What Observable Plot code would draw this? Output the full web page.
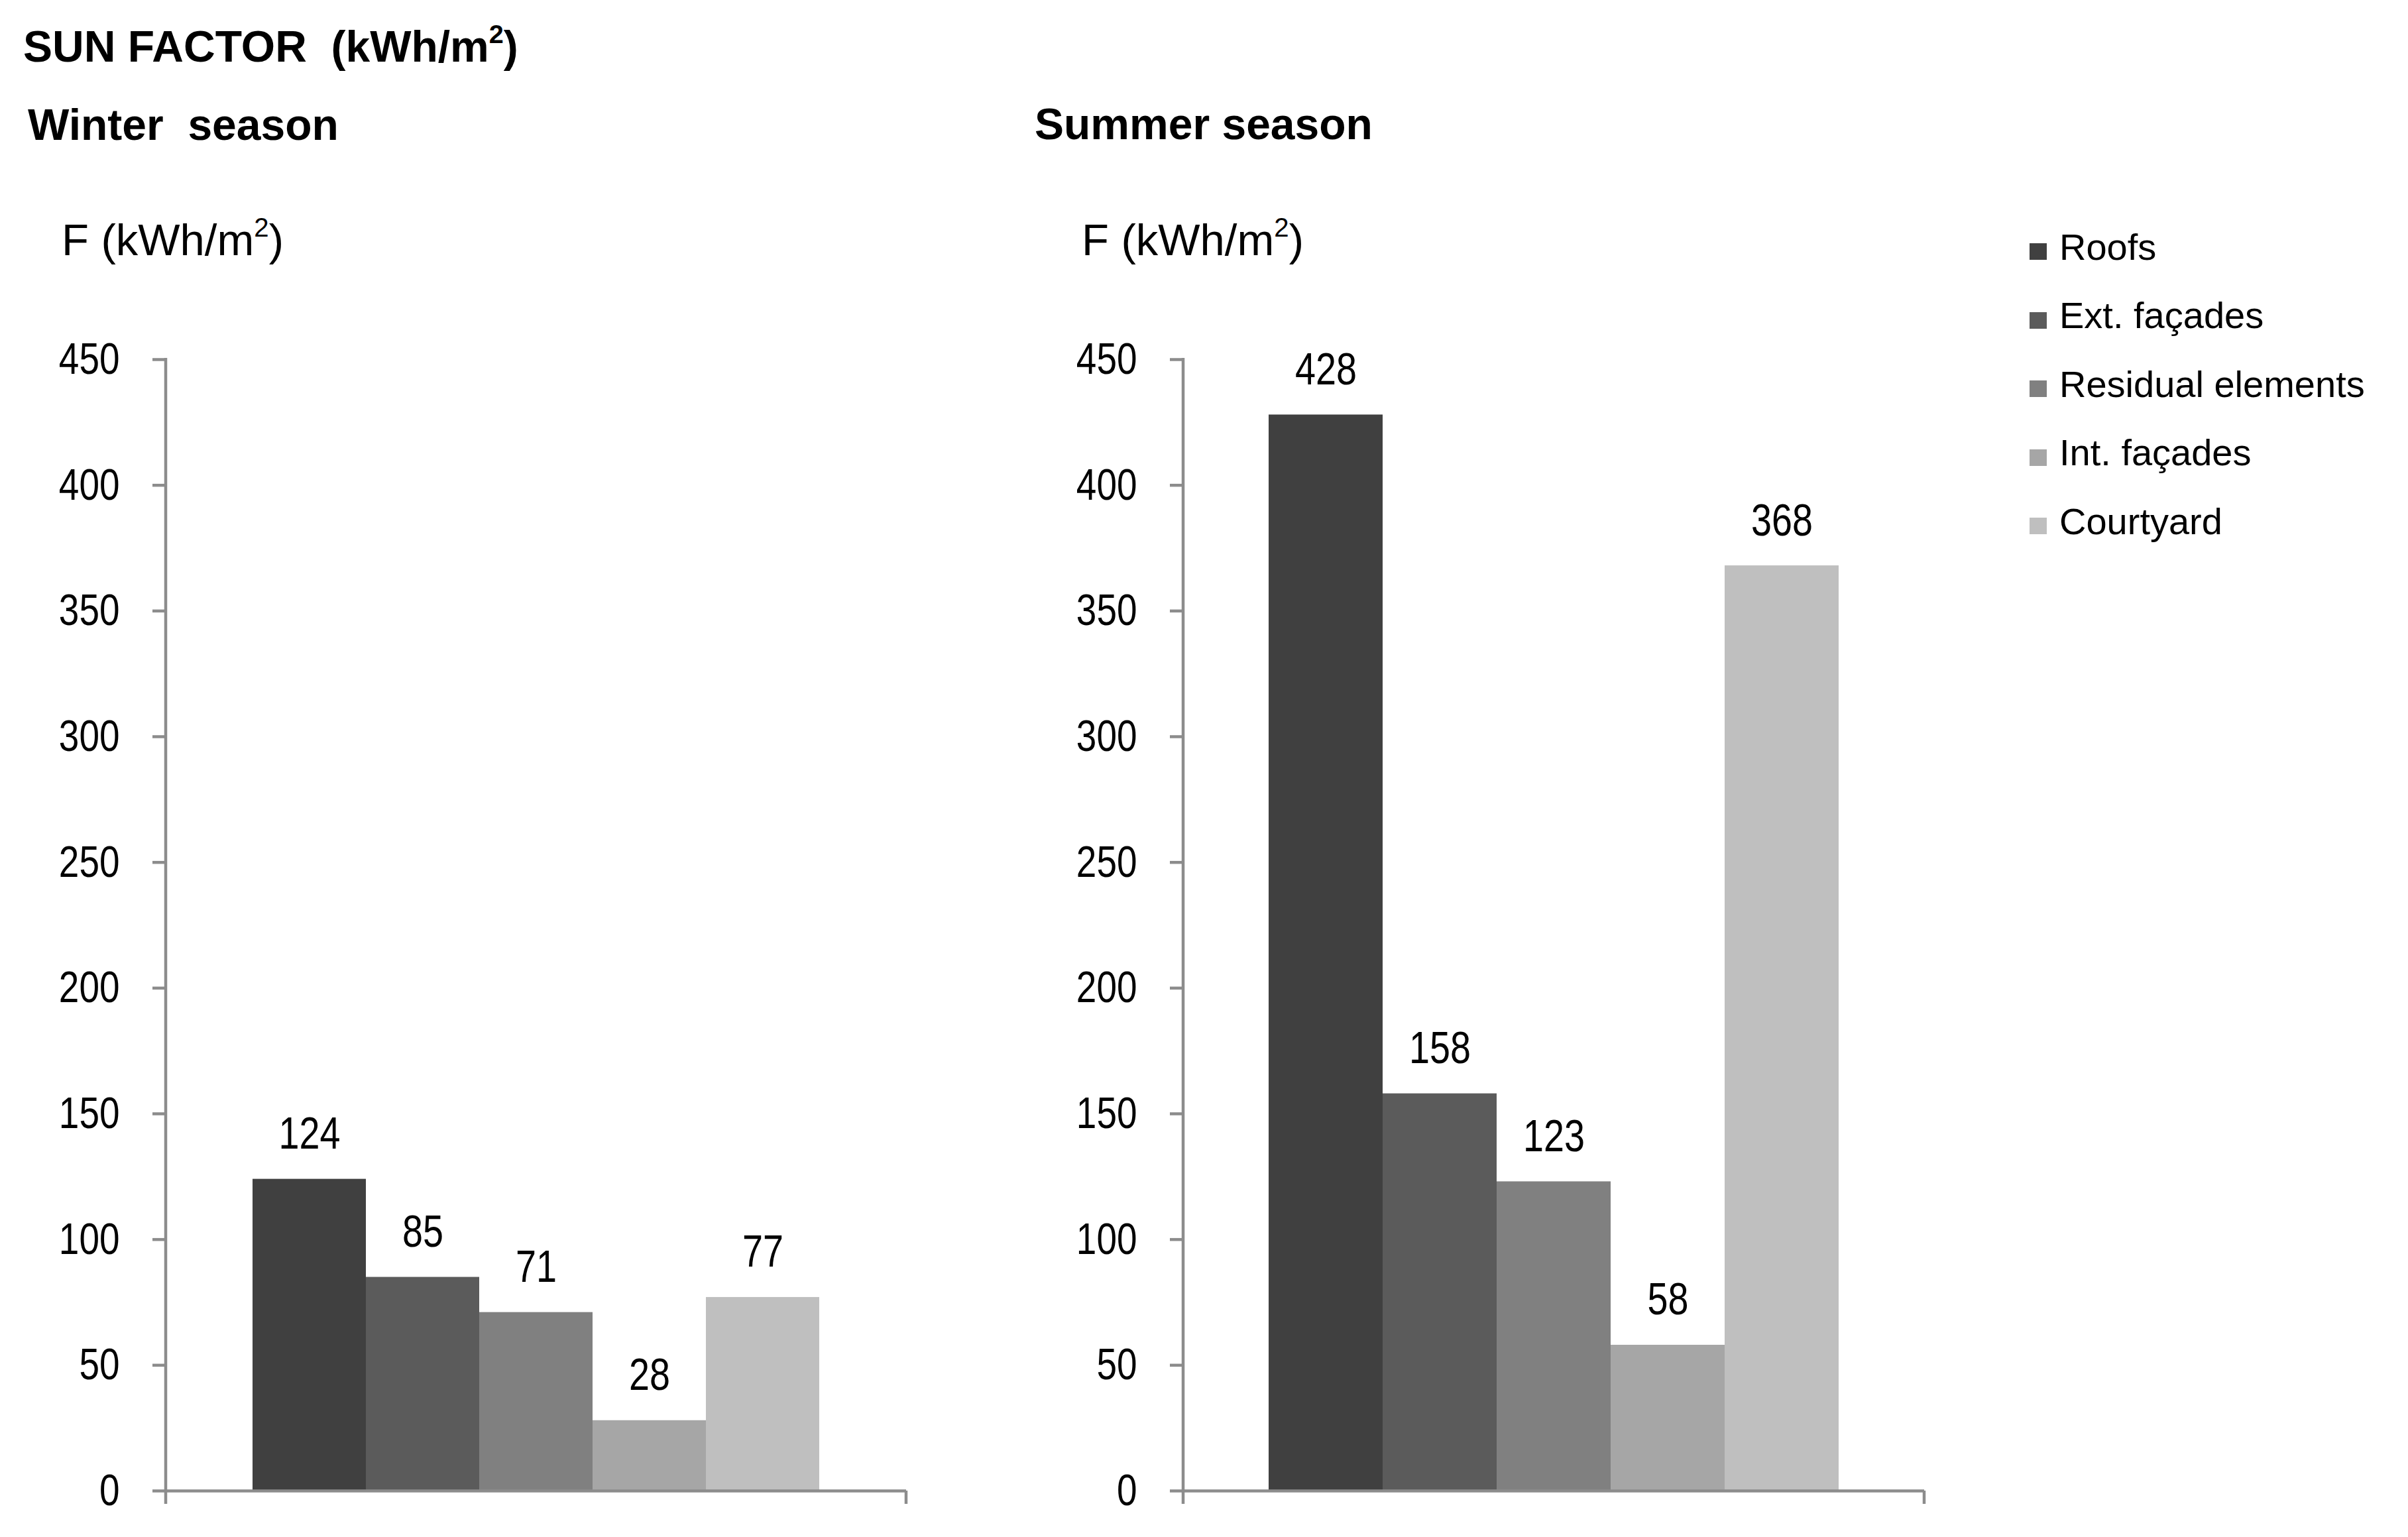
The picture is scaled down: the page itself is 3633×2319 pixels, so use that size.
<!DOCTYPE html>
<html>
<head>
<meta charset="utf-8">
<script src="https://cdn.jsdelivr.net/npm/d3@7"></script>
<script src="https://cdn.jsdelivr.net/npm/@observablehq/plot@0.6"></script>
<style>
  html, body { margin: 0; padding: 0; background: #fff; }
  #page { position: relative; width: 3633px; height: 2319px; overflow: hidden;
          font-family: "Liberation Sans", Arial, sans-serif; color: #000; background: #fff; }
  .abs { position: absolute; white-space: pre; line-height: 1; }
  .bold { font-weight: bold; }
  .sup { font-size: 0.6em; position: relative; top: -0.7em; }
  .sw { position: absolute; width: 26px; height: 25px; }
  svg.chart { position: absolute; overflow: visible; }
</style>
</head>
<body>
<div id="page"></div>
<script>
// ---- data ----
const elements = ["Roofs", "Ext. façades", "Residual elements", "Int. façades", "Courtyard"];
const winterValues = [124, 85, 71, 28, 77];
const summerValues = [428, 158, 123, 58, 368];
const yTicks = [0, 50, 100, 150, 200, 250, 300, 350, 400, 450];
const seasonTitles = ["Winter  season", "Summer season"];

// ---- styles ----
const greys = ["#404040", "#5b5b5b", "#808080", "#a6a6a6", "#bfbfbf"];
const axisGrey = "#8c8c8c";
const numFont = "'Liberation Sans', Arial, sans-serif";
const narrowScale = 0.82;

const page = document.getElementById("page");

function addText(html, left, baseline, size, cls) {
  const d = document.createElement("div");
  d.className = "abs " + (cls || "");
  d.style.left = left + "px";
  d.style.top = (baseline - 0.8465 * size) + "px";
  d.style.fontSize = size + "px";
  d.innerHTML = html;
  page.appendChild(d);
}

// titles
addText('SUN FACTOR  (kWh/m<span class="sup">2</span>)', 35, 93, 66, "bold");
addText(seasonTitles[0], 42, 211, 66, "bold");
addText(seasonTitles[1], 1561, 210, 66, "bold");
addText('F (kWh/m<span class="sup">2</span>)', 93, 385, 67, "");
addText('F (kWh/m<span class="sup">2</span>)', 1632, 385, 67, "");

// legend
elements.forEach((e, i) => {
  const sw = document.createElement("div");
  sw.className = "sw";
  sw.style.left = "3062px";
  sw.style.top = (367 + 103.5 * i) + "px";
  sw.style.background = greys[i];
  page.appendChild(sw);
  addText(e, 3107, 392 + 103.5 * i, 56, "");
});

// axis line + end ticks drawn from the plot's own scale/dimensions
function axisLines(index, scales, values, dims) {
  const y = scales.y;
  const g = d3.create("svg:g").attr("stroke", axisGrey).attr("stroke-width", 4.5).attr("fill", "none");
  const y0 = y(0), yTop = y(d3.max(yTicks));
  const xl = dims.marginLeft, xr = dims.width - dims.marginRight;
  g.append("line").attr("x1", xl).attr("x2", xl).attr("y1", yTop - 2).attr("y2", y0 + 20);
  g.append("line").attr("x1", xr).attr("x2", xr).attr("y1", y0).attr("y2", y0 + 20);
  return g.node();
}

function condense(svg) {
  svg.querySelectorAll("text").forEach(el => {
    const t = el.getAttribute("transform");
    if (t) {
      el.setAttribute("transform", t + ` scale(${narrowScale},1)`);
    } else {
      const x = +(el.getAttribute("x") || 0);
      el.setAttribute("x", 0);
      el.setAttribute("transform", `translate(${x},0) scale(${narrowScale},1)`);
    }
  });
}

function chart(values, o) {
  const data = elements.map((e, i) => ({element: e, value: values[i]}));
  const svg = Plot.plot({
    width: 1500,
    height: 1879,
    marginLeft: o.ml,
    marginRight: o.mr,
    marginTop: 102,
    marginBottom: 70,
    style: {background: "transparent", overflow: "visible"},
    x: {domain: elements, paddingInner: 0, paddingOuter: o.po, align: 0.5, axis: null},
    y: {domain: [0, 450], axis: null},
    color: {domain: elements, range: greys},
    marks: [
      Plot.barY(data, {x: "element", y: "value", fill: "element", inset: 0}),
      Plot.ruleY([0], {stroke: axisGrey, strokeWidth: 4.5}),
      axisLines,
      Plot.axisY({ticks: yTicks, label: null, tickSize: 20, tickPadding: 50, stroke: axisGrey, strokeWidth: 4.5,
                  fontSize: 67, fontFamily: numFont, fill: "#000", tickFormat: d => String(d)}),
      Plot.text(data, {x: "element", y: "value", text: d => String(d.value), dy: -46,
                       lineAnchor: "bottom", fontSize: 68, fontFamily: numFont, fill: "#000"})
    ]
  });
  condense(svg);
  svg.classList.add("chart");
  svg.style.left = o.left + "px";
  svg.style.top = "440px";
  page.appendChild(svg);
}

chart(winterValues, {left: 0, ml: 250, mr: 133, po: 0.751});
chart(summerValues, {left: 1500, ml: 285, mr: 97, po: 0.735});
</script>
</body>
</html>
